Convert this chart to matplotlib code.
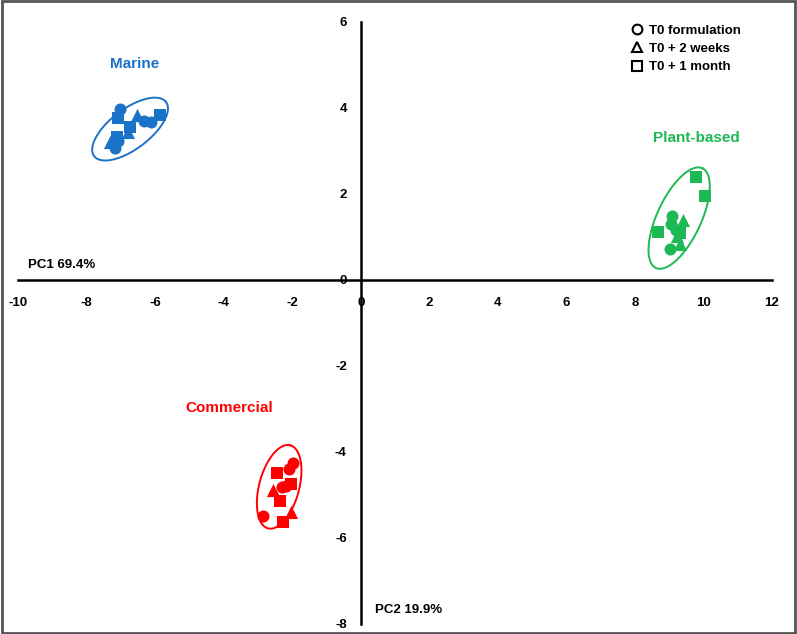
import matplotlib.pyplot as plt
from matplotlib.lines import Line2D
from matplotlib.patches import Rectangle
import numpy as np

plt.rcParams['font.family'] = ['Liberation Sans', 'DejaVu Sans']
plt.rcParams['font.weight'] = 'bold'
plt.rcParams['axes.unicode_minus'] = False

# PCA scores, per group and time point
marine_t0_x = [-7.02, -7.08, -7.17, -6.32, -6.11]
marine_t0_y = [3.98, 3.23, 3.07, 3.70, 3.67]
marine_2w_x = [-7.32, -6.53, -6.79]
marine_2w_y = [3.21, 3.84, 3.44]
marine_1m_x = [-7.08, -7.11, -6.73, -5.86]
marine_1m_y = [3.77, 3.33, 3.56, 3.84]

plant_t0_x = [9.09, 9.06, 9.20, 9.03]
plant_t0_y = [1.49, 1.30, 1.16, 0.72]
plant_2w_x = [9.41, 9.32, 9.23]
plant_2w_y = [1.40, 0.84, 1.02]
plant_1m_x = [9.79, 10.05, 8.68, 9.32]
plant_1m_y = [2.40, 1.95, 1.12, 1.09]

comm_t0_x = [-1.97, -2.09, -2.18, -2.29, -2.85]
comm_t0_y = [-4.26, -4.40, -4.79, -4.81, -5.49]
comm_2w_x = [-2.55, -2.03]
comm_2w_y = [-4.88, -5.40]
comm_1m_x = [-2.44, -2.03, -2.35, -2.27]
comm_1m_y = [-4.49, -4.74, -5.14, -5.63]

blue = '#1a73c6'
green = '#1db954'
red = '#ff0000'

fig = plt.figure(figsize=(7.97, 6.34), dpi=100)
ax = fig.add_axes([18 / 797, 10 / 634, 754 / 797, 602 / 634])
ax.set_xlim(-10, 12)
ax.set_ylim(-8, 6)

for s in ['top', 'right']:
    ax.spines[s].set_visible(False)
ax.spines['left'].set_position('zero')
ax.spines['bottom'].set_position('zero')
for s in ['left', 'bottom']:
    ax.spines[s].set_linewidth(1.8)
    ax.spines[s].set_color('black')

ax.set_xticks(range(-10, 13, 2))
ax.set_yticks(range(-8, 7, 2))
ax.tick_params(length=0, labelsize=9.5, pad=12)
ax.tick_params(axis='y', pad=10)
for lbl in ax.get_xticklabels() + ax.get_yticklabels():
    lbl.set_fontweight('bold')

groups = [
    (blue, marine_t0_x, marine_t0_y, marine_2w_x, marine_2w_y, marine_1m_x, marine_1m_y),
    (green, plant_t0_x, plant_t0_y, plant_2w_x, plant_2w_y, plant_1m_x, plant_1m_y),
    (red, comm_t0_x, comm_t0_y, comm_2w_x, comm_2w_y, comm_1m_x, comm_1m_y),
]
for col, cx, cy, tx, ty, sx, sy in groups:
    ax.scatter(cx, cy, marker='o', s=75, color=col, zorder=3, linewidths=0)
    ax.scatter(tx, ty, marker='^', s=90, color=col, zorder=3, linewidths=0)
    ax.scatter(sx, sy, marker='s', s=72, color=col, zorder=3, linewidths=0)

# confidence ellipses: centre in data, semi-axes in pixels, tilt on screen
fig.canvas.draw()
p0 = ax.transData.transform((0, 0))
p1 = ax.transData.transform((1, 1))
kx, ky = p1[0] - p0[0], p1[1] - p0[1]


def ellipse(xc, yc, a, b, ang, col):
    t = np.linspace(0, 2 * np.pi, 200)
    th = np.radians(ang)
    u = a * np.cos(t) * np.cos(th) - b * np.sin(t) * np.sin(th)
    v = a * np.cos(t) * np.sin(th) + b * np.sin(t) * np.cos(th)
    ax.plot(xc + u / kx, yc + v / ky, color=col, lw=1.4, zorder=2)


ellipse(-6.73, 3.51, 45, 20, 37, blue)
ellipse(9.29, 1.44, 55, 22, 65, green)
ellipse(-2.38, -4.81, 43, 20, 75, red)

ax.text(-6.59, 5.02, 'Marine', color=blue, fontsize=11, fontweight='bold', ha='center', va='center')
ax.text(9.79, 3.30, 'Plant-based', color=green, fontsize=11, fontweight='bold', ha='center', va='center')
ax.text(-3.84, -2.98, 'Commercial', color=red, fontsize=11, fontweight='bold', ha='center', va='center')
ax.text(-9.71, 0.35, 'PC1 69.4%', fontsize=9.5, fontweight='bold', ha='left', va='center')
ax.text(0.41, -7.67, 'PC2 19.9%', fontsize=9.5, fontweight='bold', ha='left', va='center')

handles = [
    Line2D([], [], ls='', marker='o', ms=7, mfc='white', mec='black', mew=1.5, label='T0 formulation'),
    Line2D([], [], ls='', marker='^', ms=7.5, mfc='white', mec='black', mew=1.5, label='T0 + 2 weeks'),
    Line2D([], [], ls='', marker='s', ms=6.5, mfc='white', mec='black', mew=1.5, label='T0 + 1 month'),
]
leg = ax.legend(handles=handles, loc='upper left', bbox_to_anchor=(625 / 797, 1 - 18 / 634),
                bbox_transform=fig.transFigure, frameon=False, fontsize=9.5,
                handlelength=0.8, handletextpad=0.5, labelspacing=0.45, borderpad=0)
for t in leg.get_texts():
    t.set_fontweight('bold')

fig.patches.append(Rectangle((0.002, 0.002), 0.996, 0.996, transform=fig.transFigure,
                             fill=False, edgecolor='#555555', linewidth=2))

fig.savefig('out.png', dpi=100)
